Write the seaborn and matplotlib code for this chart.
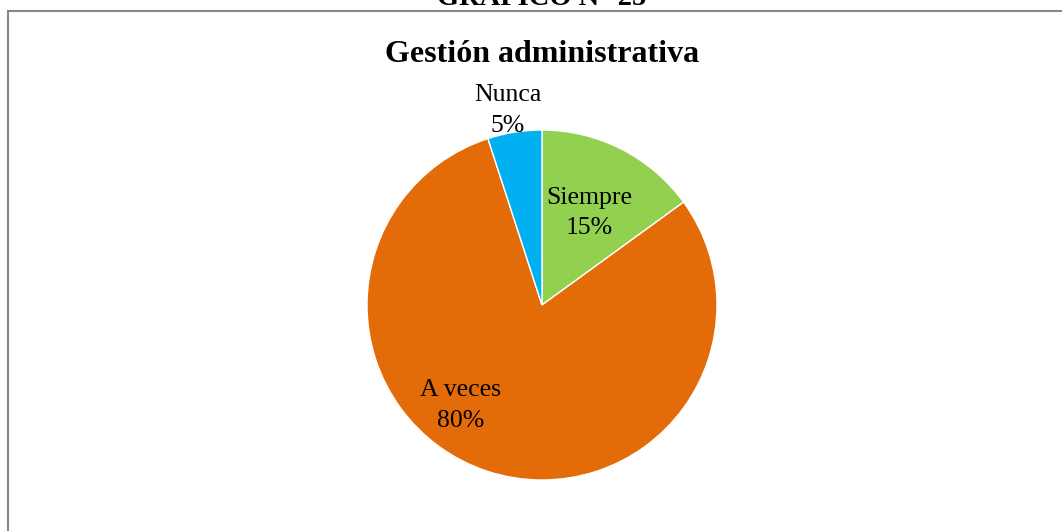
import matplotlib
matplotlib.use("Agg")
import matplotlib.pyplot as plt
import seaborn as sns
import numpy as np
from matplotlib.patches import Rectangle

categories = ["Siempre", "A veces", "Nunca"]
values = [15, 80, 5]
colors = ["#92D050", "#E36C09", "#00B0F0"]

sns.set_theme(style="white")
plt.rcParams['font.family'] = ['Liberation Serif', 'DejaVu Serif']

W, H = 1062, 531
fig = plt.figure(figsize=(W / 100, H / 100), dpi=100)
fig.patch.set_facecolor("white")

# frame of the chart area
fig.patches.append(Rectangle((8 / W, -0.05), 1.2, (H - 11) / H + 0.05,
                             transform=fig.transFigure, fill=False,
                             edgecolor="#888888", linewidth=1.5))

cx, cy, r = 542, 305, 175
ax = fig.add_axes([(cx - r) / W, (H - cy - r) / H, 2 * r / W, 2 * r / H])
wedges, _ = ax.pie(values, colors=colors, startangle=90, counterclock=False,
                   wedgeprops=dict(edgecolor="white", linewidth=1))
ax.set_xlim(-1, 1)
ax.set_ylim(-1, 1)
ax.set_aspect("equal")
ax.axis("off")

# label placement (radius fraction, angle offset in degrees) per wedge
place = [(0.59, 0), (0.74, -21), (1.13, 1)]
for w, cat, v, (rad, off) in zip(wedges, categories, values, place):
    ang = np.deg2rad((w.theta1 + w.theta2) / 2 + off)
    ax.text(rad * np.cos(ang), rad * np.sin(ang), f"{cat}\n{v}%",
            ha="center", va="center", fontsize=18.5, linespacing=1.5,
            color="black")

fig.text(cx / W, 1 - 54 / H, "Gestión administrativa", ha="center", va="center",
         fontsize=23, fontweight="bold", color="black")
fig.text(cx / W, 1 - 5 / H, "GRÁFICO N° 25", ha="center", va="baseline",
         fontsize=20.5, fontweight="bold", color="black")

fig.savefig("out.png", dpi=100, facecolor="white")
